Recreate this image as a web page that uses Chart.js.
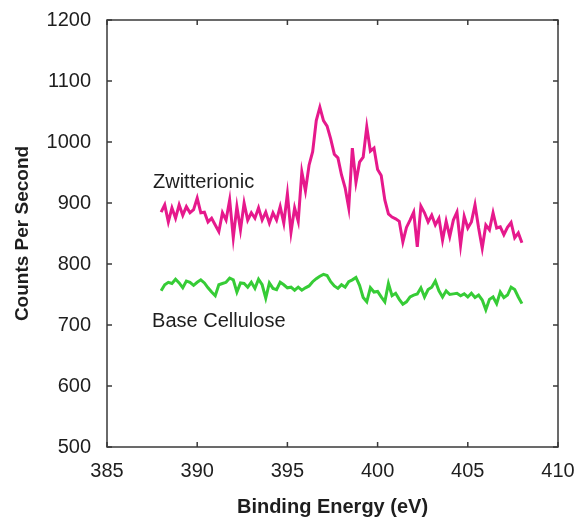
<!DOCTYPE html>
<html>
<head>
<meta charset="utf-8">
<script src="https://cdn.jsdelivr.net/npm/chart.js@4"></script>
<style>
html,body{margin:0;padding:0;background:#fff;}
#wrap{width:577px;height:520px;position:relative;}
</style>
</head>
<body>
<div id="wrap"><canvas id="c" width="577" height="520"></canvas></div>
<script>
// Binding energy grid (eV)
const energies = [
388.0,388.2,388.4,388.6,388.8,389.0,389.2,389.4,389.6,389.8,
390.0,390.2,390.4,390.6,390.8,391.0,391.2,391.4,391.6,391.8,
392.0,392.2,392.4,392.6,392.8,393.0,393.2,393.4,393.6,393.8,
394.0,394.2,394.4,394.6,394.8,395.0,395.2,395.4,395.6,395.8,
396.0,396.2,396.4,396.6,396.8,397.0,397.2,397.4,397.6,397.8,
398.0,398.2,398.4,398.6,398.8,399.0,399.2,399.4,399.6,399.8,
400.0,400.2,400.4,400.6,400.8,401.0,401.2,401.4,401.6,401.8,
402.0,402.2,402.4,402.6,402.8,403.0,403.2,403.4,403.6,403.8,
404.0,404.2,404.4,404.6,404.8,405.0,405.2,405.4,405.6,405.8,
406.0,406.2,406.4,406.6,406.8,407.0,407.2,407.4,407.6,407.8,
408.0];

const zwitterionic = [
885,897,869,892,875,897,880,894,884,889,
908,884,885,869,875,864,853,884,872,905,
843,894,856,900,872,884,875,892,872,885,
867,884,872,894,867,915,852,892,870,951,
920,962,984,1035,1057,1035,1026,1005,980,974,
946,925,892,990,934,967,975,1025,985,990,
955,945,905,882,877,874,870,836,860,872,
885,828,895,884,869,880,864,875,839,870,
845,872,885,831,878,859,869,897,859,826,
864,856,884,859,861,848,860,868,843,851,
835];

const baseCellulose = [
756,766,770,768,775,769,761,772,770,765,
770,774,769,761,754,748,766,768,770,777,
774,754,769,768,762,770,760,775,766,744,
769,760,758,770,766,761,762,757,762,757,
761,764,771,776,780,783,781,771,764,760,
766,762,771,774,778,765,745,738,761,754,
755,746,738,768,748,752,742,734,738,746,
749,751,761,746,758,762,772,756,746,756,
750,751,752,748,751,746,752,745,749,741,
725,742,746,735,754,745,749,762,758,746,
735];

const xTicks = [385, 390, 395, 400, 405, 410];
const yTicks = [500, 600, 700, 800, 900, 1000, 1100, 1200];
const seriesNames = ['Zwitterionic', 'Base Cellulose'];
// label anchors in data coordinates [energy, counts]
const labelAnchors = [[387.55, 933], [387.5, 705]];

const toPoints = vals => energies.map((e, i) => ({x: e, y: vals[i]}));

const FONT = '"Liberation Sans", Arial, sans-serif';
const frameColor = '#3a3a3a';
const textColor = '#1e1e1e';

const framePlugin = {
  id: 'frame',
  afterDraw(chart) {
    const {ctx, chartArea: a, scales: {x, y}} = chart;
    ctx.save();
    ctx.strokeStyle = frameColor;
    ctx.lineWidth = 1.5;
    ctx.strokeRect(a.left, a.top, a.right - a.left, a.bottom - a.top);
    const t = 5;
    ctx.beginPath();
    xTicks.forEach(v => {
      const px = x.getPixelForValue(v);
      ctx.moveTo(px, a.bottom); ctx.lineTo(px, a.bottom - t);
      ctx.moveTo(px, a.top); ctx.lineTo(px, a.top + t);
    });
    yTicks.forEach(v => {
      const py = y.getPixelForValue(v);
      ctx.moveTo(a.left, py); ctx.lineTo(a.left + t, py);
      ctx.moveTo(a.right, py); ctx.lineTo(a.right - t, py);
    });
    ctx.stroke();
    ctx.fillStyle = textColor;
    ctx.font = '20px ' + FONT;
    ctx.textBaseline = 'middle';
    ctx.textAlign = 'left';
    seriesNames.forEach((n, i) => {
      ctx.fillText(n, x.getPixelForValue(labelAnchors[i][0]), y.getPixelForValue(labelAnchors[i][1]));
    });
    ctx.restore();
  }
};

new Chart(document.getElementById('c'), {
  type: 'line',
  data: {
    datasets: [
      {label: seriesNames[0], data: toPoints(zwitterionic), borderColor: '#e6198c', borderWidth: 3, pointRadius: 0, tension: 0, fill: false},
      {label: seriesNames[1], data: toPoints(baseCellulose), borderColor: '#36cc36', borderWidth: 3, pointRadius: 0, tension: 0, fill: false}
    ]
  },
  options: {
    responsive: false,
    animation: false,
    layout: {padding: {left: 0, right: 19, top: 20, bottom: 0}},
    plugins: {legend: {display: false}, tooltip: {enabled: false}},
    scales: {
      x: {
        type: 'linear', min: 385, max: 410,
        afterBuildTicks: s => { s.ticks = xTicks.map(v => ({value: v})); },
        afterFit: s => { s.height = 73; s.paddingLeft = 0; s.paddingRight = 0; },
        grid: {display: false, drawTicks: false},
        border: {display: false},
        ticks: {color: textColor, padding: 12, maxRotation: 0, callback: v => String(v), font: {size: 20, family: FONT}},
        title: {display: true, text: 'Binding Energy (eV)', color: textColor, padding: {top: 0, bottom: 1}, font: {size: 20, weight: 'bold', family: FONT}}
      },
      y: {
        type: 'linear', min: 500, max: 1200,
        afterBuildTicks: s => { s.ticks = yTicks.map(v => ({value: v})); },
        afterFit: s => { s.width = 107; s.paddingTop = 0; s.paddingBottom = 0; },
        grid: {display: false, drawTicks: false},
        border: {display: false},
        ticks: {color: textColor, padding: 16, callback: v => String(v), font: {size: 20, family: FONT}},
        title: {display: true, text: 'Counts Per Second', color: textColor, padding: {top: 11, bottom: 0}, font: {size: 19, weight: 'bold', family: FONT}}
      }
    }
  },
  plugins: [framePlugin]
});
</script>
</body>
</html>
